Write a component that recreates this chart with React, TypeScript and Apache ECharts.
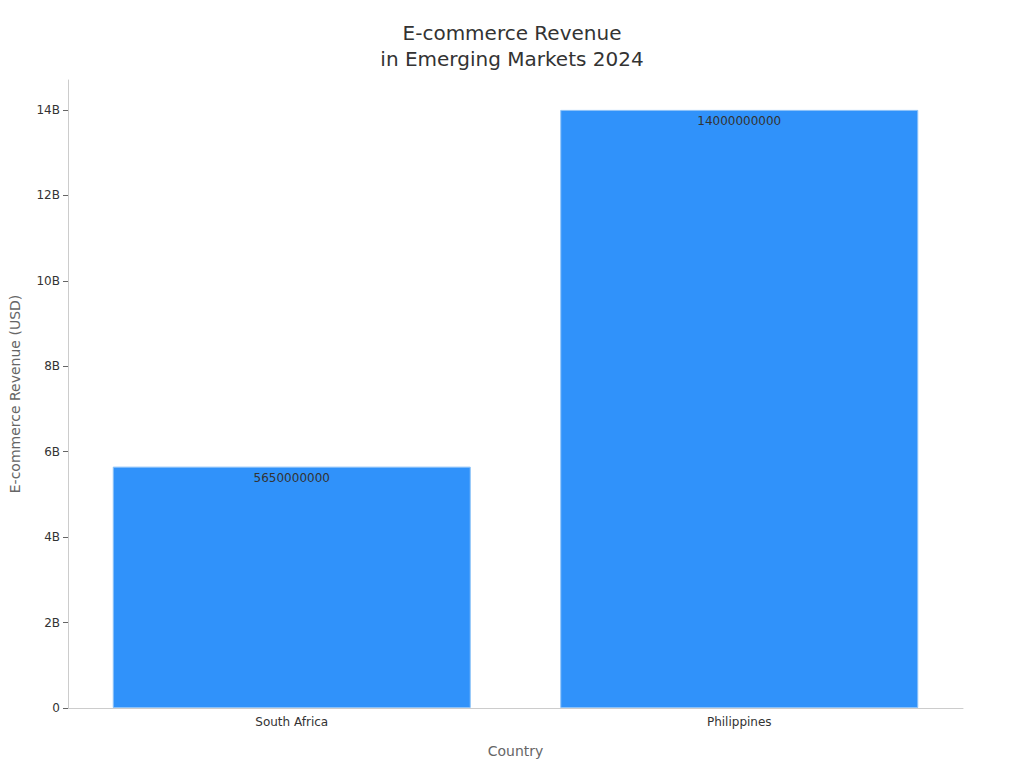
import React, { useEffect, useRef } from 'react';
import * as echarts from 'echarts';

const countries = ['South Africa', 'Philippines'];
const revenue = [5650000000, 14000000000];
const yTicks = [0, 2e9, 4e9, 6e9, 8e9, 10e9, 12e9, 14e9];
const yMax = 14.7e9;

const fontFamily = '"DejaVu Sans", sans-serif';

const App: React.FC = () => {
  const chartRef = useRef<HTMLDivElement>(null);

  useEffect(() => {
    const chart = echarts.init(chartRef.current!, undefined, { renderer: 'svg' });

    const option = {
      animation: false,
      textStyle: { fontFamily },
      title: {
        text: 'E-commerce Revenue\nin Emerging Markets 2024',
        left: 'center',
        top: 15,
        textStyle: {
          fontFamily,
          fontSize: 20,
          fontWeight: 'normal',
          color: '#333',
          lineHeight: 26,
        },
      },
      // outerBoundsMode none keeps the grid where it is told (v6 otherwise shifts it)
      grid: { left: 68, right: 61, top: 80, bottom: 60, outerBoundsMode: 'none', containLabel: false },
      xAxis: {
        type: 'category',
        data: countries,
        name: 'Country',
        nameLocation: 'middle',
        nameGap: 36,
        nameTextStyle: { color: '#666', fontSize: 14, fontFamily },
        axisLine: { lineStyle: { color: '#ccc' } },
        axisTick: { alignWithLabel: true, length: 5, lineStyle: { color: '#999' } },
        axisLabel: { color: '#333', fontSize: 12, margin: 8 },
      },
      yAxis: {
        type: 'value',
        min: 0,
        max: yMax,
        name: 'E-commerce Revenue (USD)',
        nameLocation: 'middle',
        nameRotate: 90,
        nameGap: 46,
        nameTextStyle: { color: '#666', fontSize: 14, fontFamily },
        splitLine: { show: false },
        axisLine: { show: true, lineStyle: { color: '#ccc' } },
        axisTick: {
          show: true,
          length: 5,
          customValues: yTicks,
          lineStyle: { color: '#666' },
        },
        axisLabel: {
          color: '#333',
          fontSize: 12,
          margin: 8,
          customValues: yTicks,
          formatter: (v: number) => (v === 0 ? '0' : `${v / 1e9}B`),
        },
      },
      series: [
        {
          type: 'bar',
          data: revenue,
          barWidth: '80%',
          itemStyle: {
            color: '#3092FA',
            borderColor: '#8cc2f8',
            borderWidth: 1,
          },
          label: {
            show: true,
            position: 'insideTop',
            distance: 5,
            color: '#333',
            fontSize: 12,
            fontFamily,
          },
        },
      ],
    };

    chart.setOption(option);

    return () => {
      chart.dispose();
    };
  }, []);

  return (
    <div
      ref={chartRef}
      style={{ position: 'absolute', left: 0, top: 0, width: 1024, height: 768 }}
    />
  );
};

export default App;
